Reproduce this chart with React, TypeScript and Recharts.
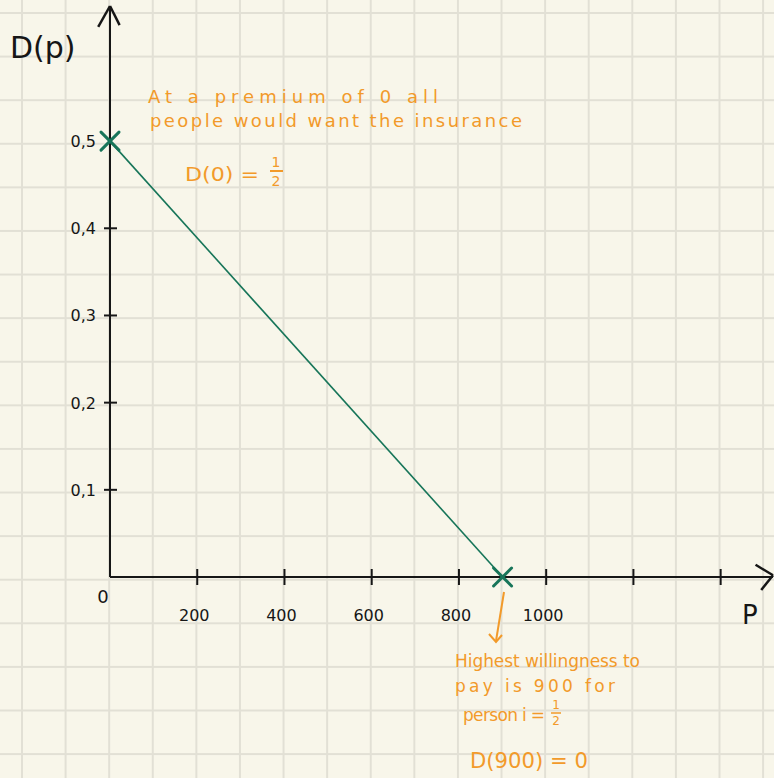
import React from 'react';
import { LineChart, Line, XAxis, YAxis, ReferenceLine } from 'recharts';

// demand curve D(p)
const premiums = [0, 900];
const demand = [0.5, 0];

const xTicks = [0, 200, 400, 600, 800, 1000, 1200, 1400];
const xTickLabels = ['0', '200', '400', '600', '800', '1000', '', ''];
const yTicks = [0.1, 0.2, 0.3, 0.4, 0.5];
const yTickLabels = ['0,1', '0,2', '0,3', '0,4', '0,5'];

const data = premiums.map((p, i) => ({ p, d: demand[i] }));

const INK = '#161616';
const GREEN = '#177559';
const ORANGE = '#f29a2a';
const FONT = '"DejaVu Sans", sans-serif';

const XTick = (props: any) => {
  const { x, y, payload } = props;
  const i = xTicks.indexOf(payload.value);
  if (payload.value === 0) {
    return (
      <text x={x - 7} y={y + 26} fontSize={18} fontFamily={FONT} fill={INK} textAnchor="middle">
        0
      </text>
    );
  }
  return (
    <g>
      <line x1={x} y1={y - 8} x2={x} y2={y + 8} stroke={INK} strokeWidth={2} />
      {xTickLabels[i] && (
        <text x={x - 3} y={y + 44} fontSize={16} fontFamily={FONT} fill={INK} textAnchor="middle">
          {xTickLabels[i]}
        </text>
      )}
    </g>
  );
};

const YTick = (props: any) => {
  const { x, y, payload } = props;
  const i = yTicks.indexOf(payload.value);
  return (
    <g>
      {payload.value !== 0.5 && (
        <line x1={x - 6} y1={y} x2={x + 7} y2={y} stroke={INK} strokeWidth={2} />
      )}
      <text x={x - 14} y={y + 6} fontSize={16} fontFamily={FONT} fill={INK} textAnchor="end">
        {yTickLabels[i]}
      </text>
    </g>
  );
};

const Cross = (props: any) => {
  const { cx, cy } = props;
  const s = 9;
  return (
    <g>
      <line x1={cx - s} y1={cy - s} x2={cx + s} y2={cy + s} stroke={GREEN} strokeWidth={3} strokeLinecap="round" />
      <line x1={cx - s} y1={cy + s} x2={cx + s} y2={cy - s} stroke={GREEN} strokeWidth={3} strokeLinecap="round" />
    </g>
  );
};

const Notes = () => (
  <svg width={774} height={778} style={{ position: 'absolute', left: 0, top: 0, pointerEvents: 'none' }}>
    <g fontFamily={FONT} fill={INK}>
      <text x={10} y={58} fontSize={30}>D(p)</text>
      <text x={742} y={624} fontSize={26}>P</text>
    </g>
    <g fontFamily={FONT} fill={ORANGE}>
      <text x={148} y={103} fontSize={18} textLength={290} lengthAdjust="spacing">At a premium of 0  all</text>
      <text x={150} y={127} fontSize={18} textLength={372} lengthAdjust="spacing">people would want the insurance</text>
      <text x={185} y={181} fontSize={20} textLength={74} lengthAdjust="spacingAndGlyphs">D(0) =</text>
      <text x={276} y={167} fontSize={14} textAnchor="middle">1</text>
      <line x1={270} y1={171} x2={283} y2={171} stroke={ORANGE} strokeWidth={2} />
      <text x={276} y={186} fontSize={14} textAnchor="middle">2</text>

      <line x1={504} y1={592} x2={496} y2={641} stroke={ORANGE} strokeWidth={2} />
      <polyline points="489,634 496,642 502,635" fill="none" stroke={ORANGE} strokeWidth={2} />
      <text x={455} y={667} fontSize={17} textLength={185} lengthAdjust="spacing">Highest willingness to</text>
      <text x={455} y={692} fontSize={17} textLength={160} lengthAdjust="spacing">pay is 900 for</text>
      <text x={463} y={721} fontSize={17} textLength={82} lengthAdjust="spacing">person i =</text>
      <text x={556} y={709} fontSize={12} textAnchor="middle">1</text>
      <line x1={551} y1={713} x2={561} y2={713} stroke={ORANGE} strokeWidth={1.5} />
      <text x={556} y={725} fontSize={12} textAnchor="middle">2</text>
      <text x={470} y={768} fontSize={22} textLength={118} lengthAdjust="spacingAndGlyphs">D(900) = 0</text>
    </g>
  </svg>
);

export default function App() {
  const grid = '#e2e0d5';
  return (
    <div
      style={{
        position: 'absolute',
        left: 0,
        top: 0,
        width: 774,
        height: 778,
        overflow: 'hidden',
        backgroundColor: '#f8f6ea',
        backgroundImage: `linear-gradient(to right, ${grid} 2px, transparent 2px), linear-gradient(to bottom, ${grid} 2px, transparent 2px)`,
        backgroundSize: '43.6px 43.6px',
        backgroundPosition: '21px 12px',
      }}
    >
      <LineChart width={774} height={778} data={data} margin={{ top: 6, right: 1, bottom: 171, left: 50 }}>
        <XAxis
          dataKey="p"
          type="number"
          domain={[0, 1520]}
          ticks={xTicks}
          tick={<XTick />}
          tickLine={false}
          tickSize={0}
          tickMargin={0}
          height={30}
          axisLine={{ stroke: INK, strokeWidth: 2 }}
          interval={0}
        />
        <YAxis
          type="number"
          domain={[0, 0.655]}
          ticks={yTicks}
          tick={<YTick />}
          tickLine={false}
          tickSize={0}
          tickMargin={0}
          width={60}
          axisLine={{ stroke: INK, strokeWidth: 2 }}
          interval={0}
        />
        {/* axis arrow heads */}
        <ReferenceLine segment={[{ x: -27, y: 0.631 }, { x: 0, y: 0.655 }]} stroke={INK} strokeWidth={2.5} ifOverflow="visible" />
        <ReferenceLine segment={[{ x: 0, y: 0.655 }, { x: 22, y: 0.633 }]} stroke={INK} strokeWidth={2.5} ifOverflow="visible" />
        <ReferenceLine segment={[{ x: 1480, y: 0.014 }, { x: 1520, y: 0.002 }]} stroke={INK} strokeWidth={2.5} ifOverflow="visible" />
        <ReferenceLine segment={[{ x: 1520, y: 0.002 }, { x: 1493, y: -0.015 }]} stroke={INK} strokeWidth={2.5} ifOverflow="visible" />
        <Line
          type="linear"
          dataKey="d"
          stroke={GREEN}
          strokeWidth={1.6}
          dot={<Cross />}
          activeDot={false}
          isAnimationActive={false}
        />
      </LineChart>
      <Notes />
    </div>
  );
}
